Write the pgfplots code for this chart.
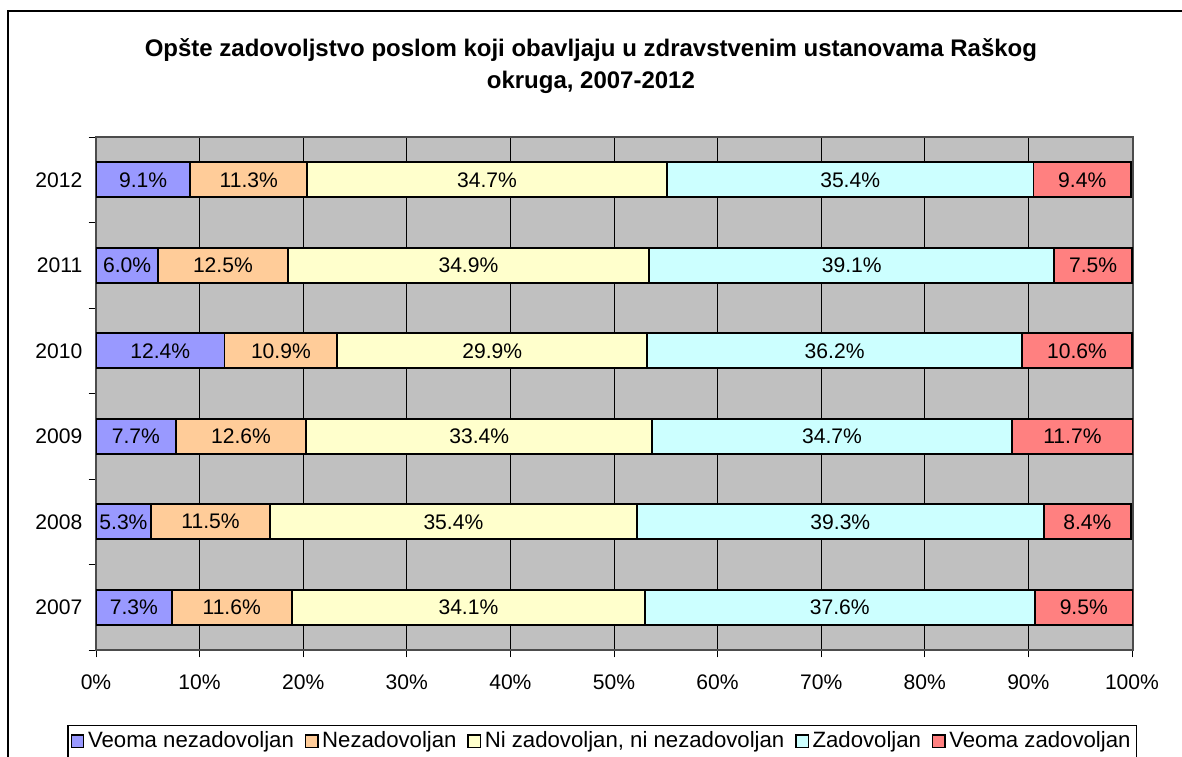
\documentclass[border=0pt]{standalone}
\usepackage{pgfplots}
\pgfplotsset{compat=1.18}
\usepackage{fontspec}
\setmainfont{Liberation Sans}

\definecolor{c1}{HTML}{9999FF}
\definecolor{c2}{HTML}{FFCC99}
\definecolor{c3}{HTML}{FFFFCC}
\definecolor{c4}{HTML}{CCFFFF}
\definecolor{c5}{HTML}{FF8080}
\definecolor{bggray}{HTML}{C0C0C0}

\begin{document}
\begin{tikzpicture}
% outer chart frame (right and bottom edges are cut off in the image)
\draw[line width=0.8pt] (4.4pt,-6.05pt) rectangle (720pt,-460pt);

\node[font=\fontsize{13.2}{17.6}\selectfont\bfseries, align=center]
  at (325pt,-36.3pt) {Opšte zadovoljstvo poslom koji obavljaju u zdravstvenim ustanovama Raškog\\okruga, 2007-2012};

\begin{axis}[
    at={(52.8pt,-357.5pt)}, anchor=south west,
    width=570.35pt, height=282.15pt, scale only axis,
    xbar stacked,
    bar width=0.41,
    xmin=0, xmax=100.1,
    ymin=-0.5, ymax=5.5,
    xtick={0,10,...,100},
    xticklabel={\pgfmathprintnumber{\tick}\%},
    ytick={-0.5,0.5,...,5.5},
    yticklabels={},
    extra y ticks={0,1,2,3,4,5},
    extra y tick labels={2007,2008,2009,2010,2011,2012},
    extra y tick style={major tick length=0pt, grid=none},
    xtick pos=bottom, ytick pos=left,
    tick align=outside,
    major tick length=4pt,
    every tick/.style={black, line width=0.5pt},
    xmajorgrids=true,
    major grid style={black, line width=0.5pt},
    axis background/.style={fill=bggray},
    axis line style={draw=gray!60!black, line width=0.8pt},
    tick label style={font=\fontsize{11.6}{13}\selectfont},
    xticklabel style={yshift=-6pt},
    yticklabel style={xshift=-4pt},
    /pgf/number format/assume math mode=true,
    every axis plot/.append style={draw=black, line width=1pt},
    nodes near coords={\pgfmathprintnumber[fixed,fixed zerofill,precision=1]{\pgfplotspointmeta}\%},
    every node near coord/.append style={font=\fontsize{11.6}{13}\selectfont, black},
    legend columns=5,
    legend style={at={(0.4884,-0.1462)}, anchor=north, draw=black, line width=0.6pt,
        font=\fontsize{12.2}{14}\selectfont, inner sep=1.5pt,
        /tikz/every even column/.append style={column sep=4pt}},
    legend image code/.code={\draw[#1, line width=0.7pt] (0pt,-3.4pt) rectangle (6.8pt,3.4pt);},
]
\addplot[fill=c1] coordinates {(7.3,0) (5.3,1) (7.7,2) (12.4,3) (6.0,4) (9.1,5)};
\addlegendentry{Veoma nezadovoljan}
\addplot[fill=c2] coordinates {(11.6,0) (11.5,1) (12.6,2) (10.9,3) (12.5,4) (11.3,5)};
\addlegendentry{Nezadovoljan}
\addplot[fill=c3] coordinates {(34.1,0) (35.4,1) (33.4,2) (29.9,3) (34.9,4) (34.7,5)};
\addlegendentry{Ni zadovoljan, ni nezadovoljan}
\addplot[fill=c4] coordinates {(37.6,0) (39.3,1) (34.7,2) (36.2,3) (39.1,4) (35.4,5)};
\addlegendentry{Zadovoljan}
\addplot[fill=c5] coordinates {(9.5,0) (8.4,1) (11.7,2) (10.6,3) (7.5,4) (9.4,5)};
\addlegendentry{Veoma zadovoljan}
\end{axis}
\pgfresetboundingbox
\useasboundingbox (0pt,0pt) rectangle (650.1pt,-416.35pt);
\end{tikzpicture}
\end{document}
